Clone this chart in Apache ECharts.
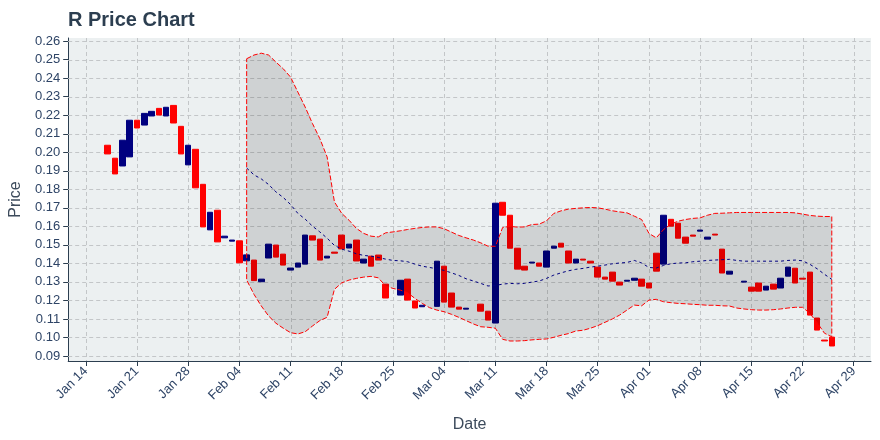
<!DOCTYPE html>
<html><head><meta charset="utf-8">
<script src="https://cdn.jsdelivr.net/npm/echarts@6/dist/echarts.min.js"></script>
<style>html,body{margin:0;padding:0;background:#fff}#c{width:880px;height:440px}</style>
</head><body><div id="c"></div>
<script>
// ---- data ----
const dates = [
 '2025-01-17','2025-01-18','2025-01-19','2025-01-20','2025-01-21','2025-01-22','2025-01-23','2025-01-24','2025-01-25','2025-01-26','2025-01-27','2025-01-28','2025-01-29','2025-01-30','2025-01-31',
 '2025-02-01','2025-02-02','2025-02-03','2025-02-04','2025-02-05','2025-02-06','2025-02-07','2025-02-08','2025-02-09','2025-02-10','2025-02-11','2025-02-12','2025-02-13','2025-02-14','2025-02-15','2025-02-16','2025-02-17','2025-02-18','2025-02-19','2025-02-20','2025-02-21','2025-02-22','2025-02-23','2025-02-24','2025-02-25','2025-02-26','2025-02-27','2025-02-28',
 '2025-03-01','2025-03-02','2025-03-03','2025-03-04','2025-03-05','2025-03-06','2025-03-07','2025-03-08','2025-03-09','2025-03-10','2025-03-11','2025-03-12','2025-03-13','2025-03-14','2025-03-15','2025-03-16','2025-03-17','2025-03-18','2025-03-19','2025-03-20','2025-03-21','2025-03-22','2025-03-23','2025-03-24','2025-03-25','2025-03-26','2025-03-27','2025-03-28','2025-03-29','2025-03-30','2025-03-31',
 '2025-04-01','2025-04-02','2025-04-03','2025-04-04','2025-04-05','2025-04-06','2025-04-07','2025-04-08','2025-04-09','2025-04-10','2025-04-11','2025-04-12','2025-04-13','2025-04-14','2025-04-15','2025-04-16','2025-04-17','2025-04-18','2025-04-19','2025-04-20','2025-04-21','2025-04-22','2025-04-23','2025-04-24','2025-04-25','2025-04-26'
];
const opens = [
 .2038,.1968,.1926,.1975,.2173,.2147,.2196,.2237,.2196,.2253,.2140,.1932,.2016,.1827,.1581,
 .1687,.1538,.1520,.1522,.1414,.1418,.1301,.1429,.1499,.1450,.1364,.1380,.1396,.1549,.1531,.1429,.1461,.1553,.1483,.1526,.1402,.1439,.1445,.1288,null,.1229,.1315,.1197,
 .1166,null,.1168,.1385,.1240,.1164,.1153,null,.1180,.1142,.1078,.1730,.1660,.1482,.1385,.1402,.1402,.1380,.1482,.1509,.1467,.1402,.1423,.1412,.1380,.1326,.1353,.1299,.1304,.1309,.1315,
 .1294,.1455,.1396,.1638,.1617,.1542,.1553,.1574,.1531,.1558,.1477,.1342,null,.1299,.1272,.1294,.1256,.1288,.1267,.1331,.1374,.1320,.1353,.1105,.0986,.1002
];
const closes = [
 .1991,.1883,.2065,.2173,.2131,.2210,.2221,.2201,.2243,.2158,.1991,.2038,.1808,.1597,.1676,
 .1516,.1547,.1526,.1403,.1446,.1307,.1315,.1504,.1434,.1391,.1375,.1402,.1553,.1526,.1418,.1439,.1455,.1478,.1504,.1413,.1423,.1385,.1418,.1213,null,.1309,.1202,.1159,
 .1174,null,.1412,.1191,.1164,.1153,.1158,null,.1142,.1094,.1725,.1660,.1482,.1369,.1364,.1407,.1385,.1467,.1493,.1488,.1402,.1423,.1418,.1402,.1326,.1315,.1304,.1283,.1309,.1320,.1277,
 .1267,.1358,.1660,.1601,.1536,.1509,.1547,.1580,.1542,.1553,.1348,.1358,null,.1304,.1250,.1250,.1277,.1261,.1320,.1380,.1294,.1315,.1121,.1040,.0981,.0954
];
const upperBand = [
 null,null,null,null,null,null,null,null,null,null,null,null,null,null,null,null,null,null,null,
 .2505,.2525,.2535,.2525,.2487,.2451,.2406,.2325,.2244,.2155,.2074,.1975,.1732,.1670,.1633,.1589,.1562,.1547,.1543,.1565,.1570,.1576,.1583,.1589,.1594,.1597,
 .1597,.1587,.1569,.1551,.1538,.1526,.1511,.1493,.1492,.1594,.1600,.1596,.1597,.1610,.1612,.1630,.1670,.1684,.1693,.1697,.1700,.1702,.1700,.1693,.1684,.1678,.1673,.1655,.1637,
 .1562,.1538,.1583,.1612,.1628,.1637,.1643,.1646,.1660,.1670,.1671,.1673,.1675,.1675,.1675,.1675,.1675,.1675,.1675,.1675,.1673,.1666,.1659,.1655,.1653,.1653
];
const middleBand = [
 null,null,null,null,null,null,null,null,null,null,null,null,null,null,null,null,null,null,null,
 .1915,.1878,.1856,.1826,.1786,.1756,.1718,.1670,.1639,.1601,.1570,.1536,.1497,.1477,.1466,.1452,.1443,.1439,.1432,.1423,.1416,.1414,.1409,.1396,.1385,.1378,
 .1371,.1362,.1349,.1335,.1317,.1305,.1292,.1278,.1281,.1288,.1292,.1290,.1292,.1299,.1305,.1319,.1337,.1349,.1360,.1368,.1373,.1380,.1385,.1391,.1398,.1402,.1405,.1416,.1402,
 .1378,.1375,.1389,.1398,.1402,.1403,.1409,.1412,.1416,.1418,.1420,.1422,.1416,.1412,.1412,.1412,.1412,.1412,.1412,.1416,.1418,.1414,.1395,.1371,.1341,.1314
];
const lowerBand = [
 null,null,null,null,null,null,null,null,null,null,null,null,null,null,null,null,null,null,null,
 .1310,.1233,.1170,.1116,.1077,.1050,.1026,.1019,.1031,.1062,.1091,.1109,.1260,.1295,.1310,.1319,.1326,.1330,.1322,.1278,.1265,.1256,.1242,.1211,.1184,.1161,
 .1148,.1139,.1125,.1109,.1091,.1073,.1058,.1055,.1050,.0990,.0981,.0981,.0983,.0987,.0990,.0992,.1001,.1012,.1021,.1035,.1039,.1050,.1064,.1082,.1100,.1121,.1148,.1175,.1171,
 .1202,.1206,.1193,.1188,.1184,.1182,.1179,.1177,.1174,.1174,.1171,.1170,.1159,.1154,.1150,.1148,.1148,.1150,.1154,.1159,.1163,.1163,.1130,.1080,.1023,.1004
];
const xTickDates = ['2025-01-14','2025-01-21','2025-01-28','2025-02-04','2025-02-11','2025-02-18','2025-02-25','2025-03-04','2025-03-11','2025-03-18','2025-03-25','2025-04-01','2025-04-08','2025-04-15','2025-04-22','2025-04-29'];
const xTickLabels = ['Jan 14','Jan 21','Jan 28','Feb 04','Feb 11','Feb 18','Feb 25','Mar 04','Mar 11','Mar 18','Mar 25','Apr 01','Apr 08','Apr 15','Apr 22','Apr 29'];
const yTicks = [0.09,0.10,0.11,0.12,0.13,0.14,0.15,0.16,0.17,0.18,0.19,0.20,0.21,0.22,0.23,0.24,0.25,0.26];

// ---- build options ----
const origin = Date.parse('2025-01-14T00:00:00Z');
const toDay = s => (Date.parse(s + 'T00:00:00Z') - origin) / 864e5;
const xMin = -2.4, xMax = 107.36, yMin = 0.0873, yMax = 0.2617;
const xTickVals = xTickDates.map(toDay);

const candleData = [];
dates.forEach((d, i) => {
  if (opens[i] == null) return;
  const o = opens[i], c = closes[i];
  candleData.push([toDay(d), o, c, Math.min(o, c), Math.max(o, c)]);
});
const bandIdx = dates.map((d, i) => i).filter(i => upperBand[i] != null);
const midData = bandIdx.map(i => [toDay(dates[i]), middleBand[i]]);

const gridColor = '#c3c6c8';
const labelColor = '#2e4466';
const axisColor = '#2c3e50';

const chart = echarts.init(document.getElementById('c'), null, {renderer: 'canvas'});
chart.setOption({
  animation: false,
  textStyle: {fontFamily: 'Liberation Sans'},
  title: {
    text: 'R Price Chart', left: 63, top: 5,
    textStyle: {fontSize: 20, fontWeight: 'bold', color: '#2c3e50', fontFamily: 'Liberation Sans'}
  },
  grid: {left: 66, right: 9, top: 38, bottom: 79, show: true, backgroundColor: '#ecf0f1', borderWidth: 0},
  xAxis: {
    type: 'value', min: xMin, max: xMax,
    name: 'Date', nameLocation: 'middle', nameGap: 56,
    nameTextStyle: {fontSize: 16, color: '#3d4b5c'},
    axisLine: {show: true, onZero: false, lineStyle: {color: axisColor, width: 1}},
    axisTick: {show: true, length: 5, customValues: xTickVals, lineStyle: {color: axisColor}},
    axisLabel: {
      customValues: xTickVals, rotate: 45, margin: 8, fontSize: 13, color: labelColor,
      formatter: v => { const k = xTickVals.findIndex(t => Math.abs(t - v) < 1e-6); return k >= 0 ? xTickLabels[k] : ''; }
    },
    splitLine: {show: false}
  },
  yAxis: {
    type: 'value', min: yMin, max: yMax,
    name: 'Price', nameLocation: 'middle', nameGap: 38,
    nameTextStyle: {fontSize: 16, color: '#3d4b5c'},
    axisLine: {show: true, onZero: false, lineStyle: {color: axisColor, width: 1}},
    axisTick: {show: true, length: 5, customValues: yTicks, lineStyle: {color: axisColor}},
    axisLabel: {customValues: yTicks, margin: 8, fontSize: 13, color: labelColor, formatter: v => v.toFixed(2)},
    splitLine: {show: false}
  },
  series: [
    { // vertical grid lines
      type: 'custom', silent: true, z: 1,
      data: xTickVals.map(v => [v, yMin]),
      renderItem: (params, api) => {
        const cs = params.coordSys;
        const x = Math.round(api.coord([api.value(0), yMin])[0]) + 0.5;
        return {type: 'line', shape: {x1: x, y1: cs.y, x2: x, y2: cs.y + cs.height},
          style: {stroke: gridColor, lineWidth: 1, lineDash: [4, 3]}};
      }
    },
    { // horizontal grid lines
      type: 'custom', silent: true, z: 1,
      data: yTicks.map(v => [xMin, v]),
      renderItem: (params, api) => {
        const cs = params.coordSys;
        const y = Math.round(api.coord([xMin, api.value(1)])[1]) + 0.5;
        return {type: 'line', shape: {x1: cs.x, y1: y, x2: cs.x + cs.width, y2: y},
          style: {stroke: gridColor, lineWidth: 1, lineDash: [4, 3]}};
      }
    },
    {
      type: 'candlestick', z: 3,
      data: candleData,
      encode: {x: 0, y: [1, 2, 3, 4]},
      barWidth: 6,
      itemStyle: {color: '#000080', color0: '#ff0000', borderColor: '#000080', borderColor0: '#ff0000', borderWidth: 1}
    },
    { // Bollinger band fill + outline
      type: 'custom', silent: true, z: 4,
      data: [[toDay(dates[bandIdx[0]]), upperBand[bandIdx[0]]]],
      renderItem: (params, api) => {
        const pts = [];
        bandIdx.forEach(i => pts.push(api.coord([toDay(dates[i]), upperBand[i]])));
        bandIdx.slice().reverse().forEach(i => pts.push(api.coord([toDay(dates[i]), lowerBand[i]])));
        return {type: 'polygon', shape: {points: pts},
          style: {fill: 'rgba(0,0,0,0.12)', stroke: '#ff0000', lineWidth: 1, lineDash: [5, 2]}};
      }
    },
    {
      type: 'line', z: 5, data: midData, symbol: 'none', silent: true,
      lineStyle: {color: '#000080', width: 1, type: [3, 3]}
    }
  ]
});
</script>
</body></html>
